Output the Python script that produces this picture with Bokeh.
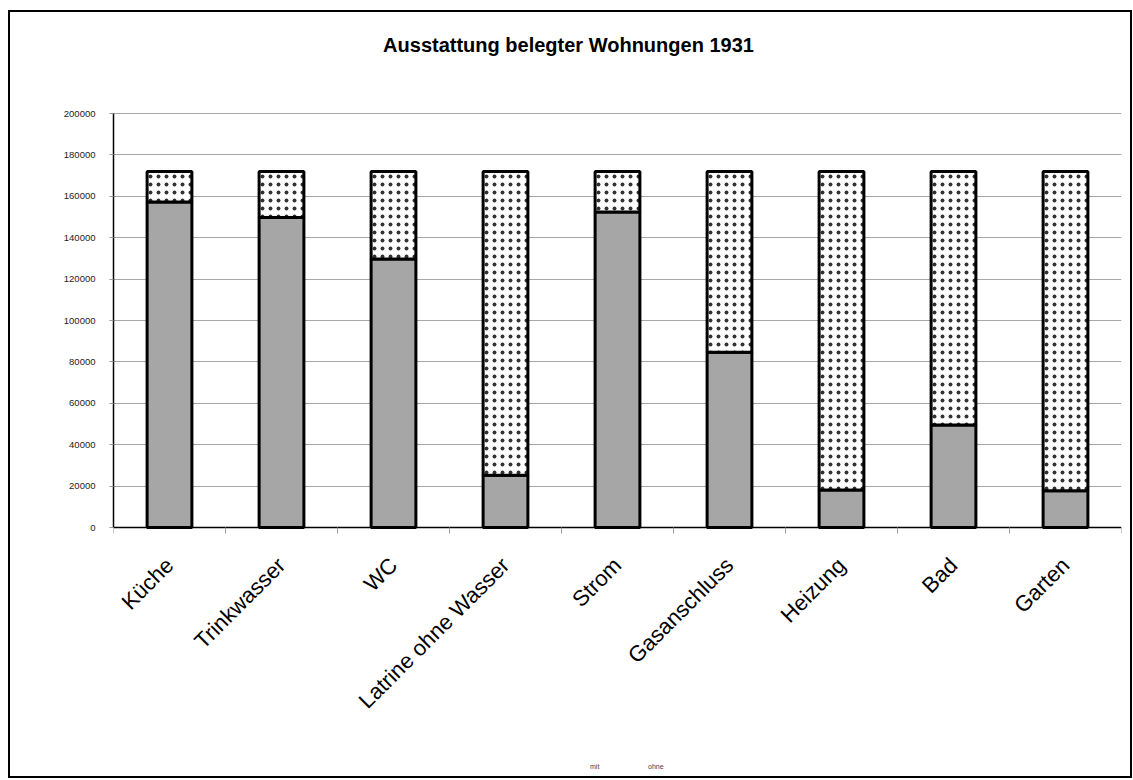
import math

from bokeh.embed import file_html
from bokeh.models import (ColumnDataSource, FixedTicker, Label, Legend,
                          LegendItem, Range1d, NumeralTickFormatter)
from bokeh.plotting import figure
from bokeh.resources import INLINE
from bokeh.transform import stack

# Ausstattung belegter Wohnungen 1931 (Anzahl Wohnungen)
categories = ["Küche", "Trinkwasser", "WC", "Latrine ohne Wasser", "Strom",
              "Gasanschluss", "Heizung", "Bad", "Garten"]
mit = [157200, 149700, 129700, 25200, 152400, 84700, 18100, 49500, 17800]
ohne = [14800, 22300, 42300, 146800, 19600, 87300, 153900, 122500, 154200]
y_ticks = [0, 20000, 40000, 60000, 80000, 100000, 120000, 140000, 160000, 180000, 200000]
title_text = "Ausstattung belegter Wohnungen 1931"

FONT = "Liberation Sans"
MIT_COLOR = "#a6a6a6"
Y_MAX = 200000

# the frame covers the whole bordered area; the value axis occupies 414 px,
# with 101 px above it for the title and 249 px below it for names and legend
FRAME_W = 1008
PLOT_H = 414
ABOVE_H = 101
BELOW_H = 249
FRAME_H = ABOVE_H + PLOT_H + BELOW_H
units_per_px = Y_MAX / PLOT_H

n = len(categories)
idx = list(range(n))
source = ColumnDataSource(dict(x=idx, cat=categories, mit=mit, ohne=ohne))

x_range = Range1d(-0.5, n - 0.5)
y_range = Range1d(-BELOW_H * units_per_px, Y_MAX + ABOVE_H * units_per_px)
p = figure(
    title=None,
    x_range=x_range, y_range=y_range,
    frame_width=FRAME_W, frame_height=FRAME_H,
    min_border_left=103, min_border_right=9,
    min_border_top=0, min_border_bottom=0,
    output_backend="svg", toolbar_location=None,
    background_fill_color="white", border_fill_color="white",
    outline_line_color=None,
    styles={"margin-left": "8px", "margin-top": "10px",
            "border": "2px solid black"},
)

r_mit = p.vbar(x="x", bottom=stack(), top=stack("mit"), width=0.4,
               source=source, fill_color=MIT_COLOR, line_color="black",
               line_width=3)
r_ohne = p.vbar(x="x", bottom=stack("mit"), top=stack("mit", "ohne"),
                width=0.4, source=source, fill_color="white",
                hatch_pattern="dot", hatch_color="#333333", hatch_scale=8,
                hatch_weight=1.0, line_color="black", line_width=3)

# small swatches for the legend (thin outlines)
leg_mit = p.vbar(x=[], top=[], width=0.4, fill_color=MIT_COLOR,
                 line_color="black", line_width=1.2)
leg_ohne = p.vbar(x=[], top=[], width=0.4, fill_color="black",
                  line_color="black", line_width=1.2)

# chart title, centred on the whole chart area
px_x = FRAME_W / n
p.add_layout(Label(x=x_range.start + 455 / px_x,
                   y=Y_MAX + 69 * units_per_px,
                   text=title_text, text_align="center",
                   text_baseline="middle", text_font=FONT,
                   text_font_size="20px", text_font_style="bold",
                   text_color="black"))

# y axis, drawn only over the value span
p.yaxis.ticker = FixedTicker(ticks=y_ticks)
p.yaxis.bounds = (0, Y_MAX)
p.yaxis.formatter = NumeralTickFormatter(format="0")
p.yaxis.major_label_text_font = FONT
p.yaxis.major_label_text_font_size = "9.5px"
p.yaxis.major_label_text_color = "#222222"
p.yaxis.axis_line_color = "black"
p.yaxis.axis_line_width = 1.5
p.yaxis.major_tick_in = 0
p.yaxis.major_tick_out = 4
p.yaxis.major_tick_line_color = "#999999"
p.yaxis.minor_tick_line_color = None
p.yaxis.major_label_standoff = 14

p.ygrid.grid_line_color = "#a6a6a6"
p.ygrid.grid_line_width = 1
p.xgrid.grid_line_color = None

# x axis at zero: names centred under the bars, small ticks on the boundaries
xa = p.xaxis[0]
xa.fixed_location = 0
xa.ticker = FixedTicker(ticks=idx, minor_ticks=[i - 0.5 for i in range(n + 1)])
xa.major_label_overrides = {i: c for i, c in zip(idx, categories)}
xa.axis_line_color = "black"
xa.axis_line_width = 1.5
xa.major_tick_line_color = None
xa.major_tick_in = 0
xa.major_tick_out = 0
xa.minor_tick_line_color = "#999999"
xa.minor_tick_in = 0
xa.minor_tick_out = 6
xa.major_label_orientation = math.pi / 4
xa.major_label_text_font = FONT
xa.major_label_text_font_size = "22px"
xa.major_label_text_color = "black"
xa.major_label_standoff = 28

# legend near the bottom edge, offset from the frame's lower left corner
legend = Legend(items=[LegendItem(label="mit", renderers=[leg_mit]),
                       LegendItem(label="ohne", renderers=[leg_ohne])],
                orientation="horizontal", location=(469, 6),
                label_text_font=FONT, label_text_font_size="7px",
                glyph_width=6, glyph_height=6, label_standoff=2,
                spacing=30, padding=2, margin=0,
                border_line_color=None, background_fill_alpha=0)
p.add_layout(legend, "center")

open("out.html", "w").write(file_html(p, INLINE))
